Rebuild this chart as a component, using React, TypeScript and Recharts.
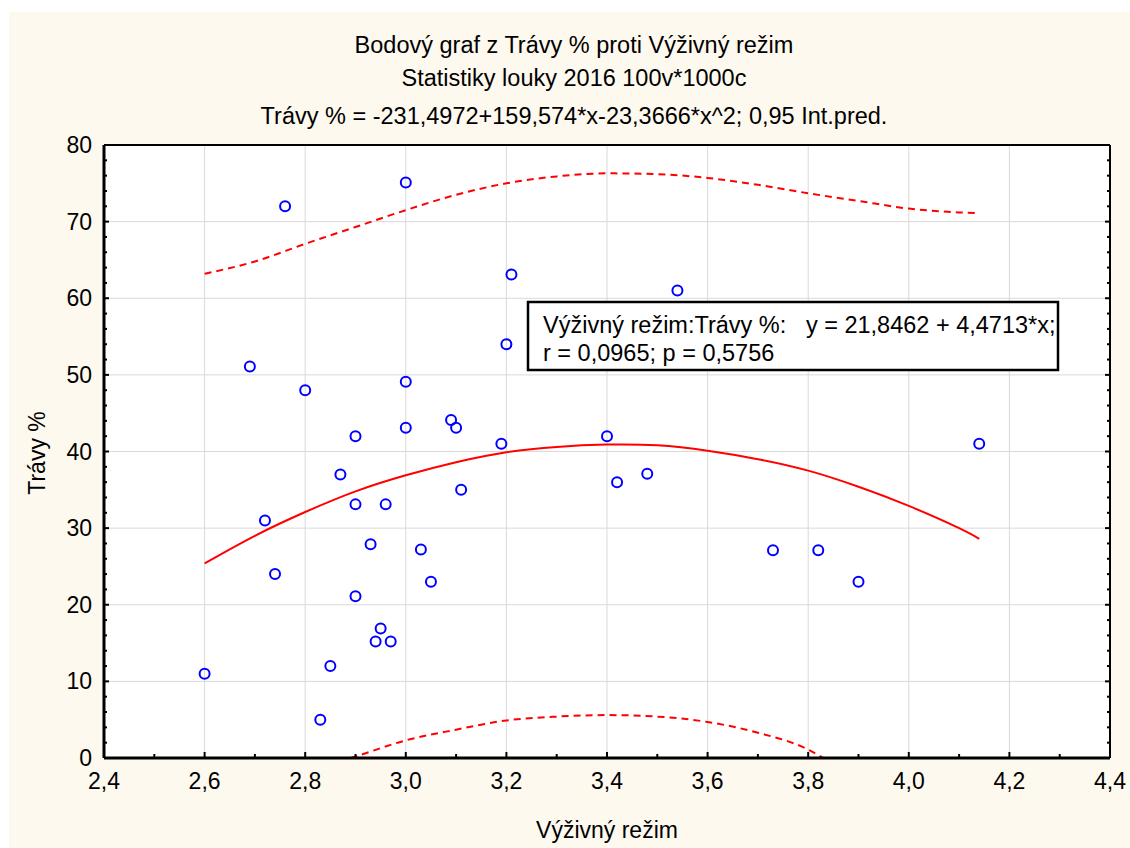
import React from "react";
import { CartesianGrid, ComposedChart, Line, Scatter, XAxis, YAxis } from "recharts";

// measured points: nutrition regime vs. grass share
const vyzivnyRezim = [
  2.6, 2.69, 2.72, 2.74, 2.76, 2.8, 2.83, 2.85, 2.87, 2.9, 2.9, 2.9,
  2.93, 2.94, 2.95, 2.96, 2.97, 3.0, 3.0, 3.0, 3.03, 3.05, 3.09, 3.1,
  3.11, 3.19, 3.2, 3.21, 3.4, 3.42, 3.48, 3.54, 3.73, 3.82, 3.9, 4.14,
];
const travyPct = [
  11.0, 51.1, 31.0, 24.0, 72.0, 48.0, 5.0, 12.0, 37.0, 42.0, 33.1, 21.1,
  27.9, 15.2, 16.9, 33.1, 15.2, 75.1, 49.1, 43.1, 27.2, 23.0, 44.1, 43.1,
  35.0, 41.0, 54.0, 63.1, 42.0, 36.0, 37.1, 61.0, 27.1, 27.1, 23.0, 41.0,
];

// quadratic fit and upper prediction band, sampled along x
const fitX = [2.6, 2.7, 2.8, 2.9, 3.0, 3.1, 3.2, 3.3, 3.4, 3.5, 3.6, 3.7, 3.8, 3.9, 4.0, 4.1, 4.14];
const fitY = [25.4, 29.0, 32.1, 34.8, 36.9, 38.6, 39.9, 40.6, 40.9, 40.8, 40.1, 39.0, 37.5, 35.4, 32.9, 30.0, 28.6];
const upperY = [63.2, 64.8, 67.1, 69.3, 71.5, 73.5, 75.0, 75.9, 76.3, 76.2, 75.7, 74.8, 73.7, 72.7, 71.7, 71.2, 71.1];

// lower prediction band (visible part above zero)
const lowerX = [2.89, 2.9, 3.0, 3.1, 3.2, 3.3, 3.4, 3.5, 3.6, 3.7, 3.8, 3.83];
const lowerY = [0, 0.2, 2.3, 3.7, 4.9, 5.4, 5.6, 5.4, 4.7, 3.3, 1.1, 0];

const xTicks = [2.4, 2.5, 2.6, 2.7, 2.8, 2.9, 3.0, 3.1, 3.2, 3.3, 3.4, 3.5, 3.6, 3.7, 3.8, 3.9, 4.0, 4.1, 4.2, 4.3, 4.4];
const xMajor = [2.4, 2.6, 2.8, 3.0, 3.2, 3.4, 3.6, 3.8, 4.0, 4.2, 4.4];
const yTicks = [
  0, 2, 4, 6, 8, 10, 12, 14, 16, 18, 20, 22, 24, 26, 28, 30, 32, 34, 36, 38, 40,
  42, 44, 46, 48, 50, 52, 54, 56, 58, 60, 62, 64, 66, 68, 70, 72, 74, 76, 78, 80,
];
const yMajor = [0, 10, 20, 30, 40, 50, 60, 70, 80];

const points = vyzivnyRezim.map((x, i) => ({ x, y: travyPct[i] }));
const fit = fitX.map((x, i) => ({ x, y: fitY[i] }));
const upper = fitX.map((x, i) => ({ x, y: upperY[i] }));
const lower = lowerX.map((x, i) => ({ x, y: lowerY[i] }));

const FONT = '"Liberation Sans", Arial, sans-serif';
const RED = "#ff0000";

const isMajorX = (v: number) => Math.round(v * 10) % 2 === 0;
const isMajorY = (v: number) => v % 10 === 0;
const fmtX = (v: number) => v.toFixed(1).replace(".", ",");

// bottom axis: the tick anchor sits 1px below the axis line (axis height is 1)
function BottomTick({ x, y, payload }: any) {
  const major = isMajorX(payload.value);
  const y0 = y - 1;
  return (
    <g>
      <line x1={x} y1={y0} x2={x} y2={y0 - (major ? 5 : 3)} stroke="#000" strokeWidth={2} />
      {major && (
        <text x={x} y={y0 + 32} textAnchor="middle" fontSize={23} fontFamily={FONT} fill="#000">
          {fmtX(payload.value)}
        </text>
      )}
    </g>
  );
}

function TopTick({ x, y, payload }: any) {
  const major = isMajorX(payload.value);
  return <line x1={x} y1={y} x2={x} y2={y + (major ? 5 : 3)} stroke="#000" strokeWidth={2} />;
}

function LeftTick({ x, y, payload }: any) {
  const major = isMajorY(payload.value);
  return (
    <g>
      <line x1={x} y1={y} x2={x + (major ? 5 : 3)} y2={y} stroke="#000" strokeWidth={2} />
      {major && (
        <text x={x - 12} y={y + 8} textAnchor="end" fontSize={23} fontFamily={FONT} fill="#000">
          {payload.value}
        </text>
      )}
    </g>
  );
}

function RightTick({ x, y, payload }: any) {
  const major = isMajorY(payload.value);
  return <line x1={x} y1={y} x2={x - (major ? 5 : 3)} y2={y} stroke="#000" strokeWidth={2} />;
}

const Ring = (p: any) => (
  <circle cx={p.cx} cy={p.cy} r={5} fill="none" stroke="#0000ff" strokeWidth={2} />
);

export default function App() {
  return (
    <div style={{ position: "absolute", left: 0, top: 0, width: 1130, height: 848, background: "#fff", overflow: "hidden" }}>
      <div style={{ position: "absolute", left: 9, top: 12, right: 0, bottom: 0, background: "#fef9ef" }} />
      <div style={{ position: "absolute", left: 0, top: 0 }}>
        <ComposedChart width={1130} height={848} margin={{ top: 144, right: 19, bottom: 89, left: 103 }}>
          <CartesianGrid
            fill="#fff"
            stroke="#d9d9d9"
            strokeWidth={1}
            verticalValues={xMajor}
            horizontalValues={yMajor}
          />
          <XAxis
            dataKey="x"
            type="number"
            domain={[2.4, 4.4]}
            allowDataOverflow
            ticks={xTicks}
            interval={0}
            height={1}
            tickSize={0}
            tickMargin={0}
            tickLine={false}
            tick={BottomTick}
            axisLine={{ stroke: "#000", strokeWidth: 3 }}
          />
          <XAxis
            xAxisId="top"
            orientation="top"
            type="number"
            domain={[2.4, 4.4]}
            allowDataOverflow
            ticks={xTicks}
            interval={0}
            height={1}
            tickSize={0}
            tickMargin={0}
            tickLine={false}
            tick={TopTick}
            axisLine={{ stroke: "#000", strokeWidth: 2 }}
          />
          <YAxis
            dataKey="y"
            type="number"
            domain={[0, 80]}
            allowDataOverflow
            ticks={yTicks}
            interval={0}
            width={1}
            tickSize={0}
            tickMargin={0}
            tickLine={false}
            tick={LeftTick}
            axisLine={{ stroke: "#000", strokeWidth: 3 }}
          />
          <YAxis
            yAxisId="right"
            orientation="right"
            type="number"
            domain={[0, 80]}
            allowDataOverflow
            ticks={yTicks}
            interval={0}
            width={1}
            tickSize={0}
            tickMargin={0}
            tickLine={false}
            tick={RightTick}
            axisLine={{ stroke: "#000", strokeWidth: 2 }}
          />
          <Line data={upper} dataKey="y" type="monotone" stroke={RED} strokeWidth={2} strokeDasharray="7 5" dot={false} isAnimationActive={false} />
          <Line data={lower} dataKey="y" type="monotone" stroke={RED} strokeWidth={2} strokeDasharray="7 5" dot={false} isAnimationActive={false} />
          <Line data={fit} dataKey="y" type="natural" stroke={RED} strokeWidth={2} dot={false} isAnimationActive={false} />
          <Scatter data={points} dataKey="y" shape={Ring} isAnimationActive={false} />
        </ComposedChart>
      </div>
      <svg width={1130} height={848} style={{ position: "absolute", left: 0, top: 0, pointerEvents: "none" }} fontFamily={FONT} fill="#000">
        <text x={574} y={53} textAnchor="middle" fontSize={23.5}>Bodový graf z Trávy % proti Výživný režim</text>
        <text x={574} y={86} textAnchor="middle" fontSize={23.5}>Statistiky louky 2016 100v*1000c</text>
        <text x={574} y={124} textAnchor="middle" fontSize={23.5}>Trávy % = -231,4972+159,574*x-23,3666*x^2; 0,95 Int.pred.</text>
        <text x={607} y={838} textAnchor="middle" fontSize={23}>Výživný režim</text>
        <text transform="translate(45 453) rotate(-90)" textAnchor="middle" fontSize={23}>Trávy %</text>
        <rect x={528} y={302} width={530} height={68} fill="#fff" stroke="#000" strokeWidth={2.5} />
        <text x={543} y={333} fontSize={23.5} style={{ whiteSpace: "pre" }}>{"Výživný režim:Trávy %:   y = 21,8462 + 4,4713*x;"}</text>
        <text x={543} y={361} fontSize={23.5}>r = 0,0965; p = 0,5756</text>
      </svg>
    </div>
  );
}
